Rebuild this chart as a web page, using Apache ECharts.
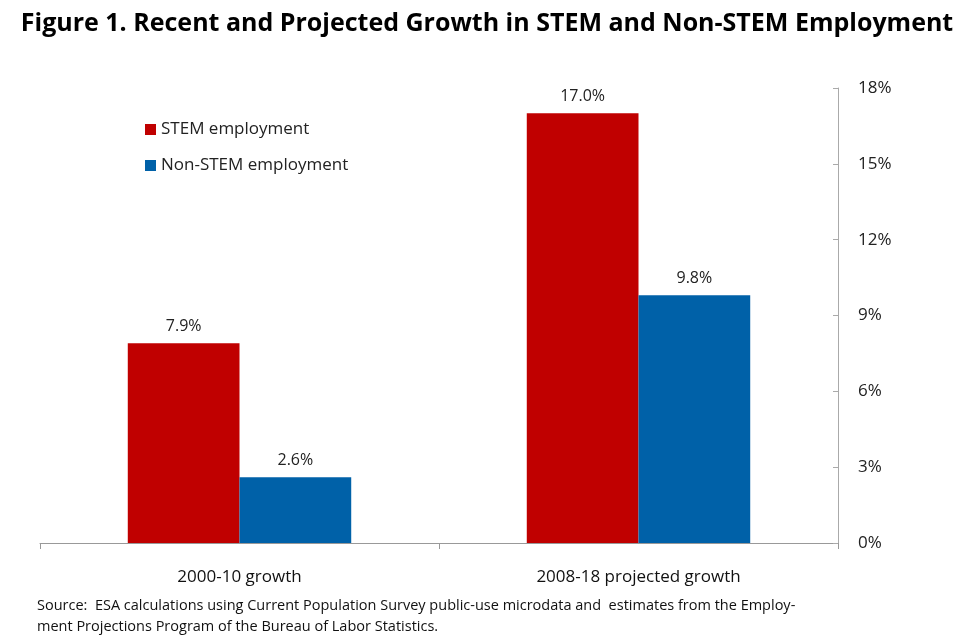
<!DOCTYPE html>
<html>
<head>
<meta charset="utf-8">
<script src="https://cdn.jsdelivr.net/npm/echarts@6/dist/echarts.min.js"></script>
<style>
  html, body { margin: 0; padding: 0; background: #fff; }
  #chart { width: 974px; height: 637px; }
</style>
</head>
<body>
<div id="chart"></div>
<script>
// data
const categories = ['2000-10 growth', '2008-18 projected growth'];
const stemValues = [7.9, 17.0];
const nonStemValues = [2.6, 9.8];
const seriesNames = ['STEM employment', 'Non-STEM employment'];

const chart = echarts.init(document.getElementById('chart'));
const font = '"Open Sans", "Liberation Sans", sans-serif';

chart.setOption({
    animation: false,
    title: {
        text: 'Figure 1. Recent and Projected Growth in STEM and Non-STEM Employment',
        left: 'center',
        top: 6,
        textStyle: { fontFamily: font, fontSize: 25, fontWeight: 'bold', color: '#000' }
    },
    legend: {
        orient: 'vertical',
        left: 140,
        top: 116,
        itemGap: 19,
        itemWidth: 11,
        itemHeight: 11,
        icon: 'rect',
        textStyle: { fontFamily: font, fontSize: 17, color: '#222' },
        data: seriesNames
    },
    grid: { left: 40, right: 136, top: 88, bottom: 94 },
    xAxis: {
        type: 'category',
        data: categories,
        axisLine: { lineStyle: { color: '#999' } },
        axisTick: { show: true, alignWithLabel: false, length: 6, lineStyle: { color: '#999' } },
        axisLabel: { fontFamily: font, fontSize: 17, color: '#111', margin: 26 }
    },
    yAxis: {
        type: 'value',
        position: 'right',
        min: 0,
        max: 18,
        interval: 3,
        axisLine: { show: true, lineStyle: { color: '#aaa' } },
        axisTick: { show: true, inside: true, length: 5, lineStyle: { color: '#aaa' } },
        splitLine: { show: false },
        axisLabel: { fontFamily: font, fontSize: 17, color: '#222', margin: 20, formatter: '{value}%' }
    },
    series: [
        {
            name: seriesNames[0],
            type: 'bar',
            data: stemValues,
            barGap: '0%',
            barCategoryGap: '44%',
            itemStyle: { color: '#C00000' },
            label: { show: true, position: 'top', distance: 9, fontFamily: font, fontSize: 16, color: '#222',
                     formatter: p => p.value.toFixed(1) + '%' }
        },
        {
            name: seriesNames[1],
            type: 'bar',
            data: nonStemValues,
            itemStyle: { color: '#0061A8' },
            label: { show: true, position: 'top', distance: 9, fontFamily: font, fontSize: 16, color: '#222',
                     formatter: p => p.value.toFixed(1) + '%' }
        }
    ],
    graphic: [
        {
            type: 'text',
            left: 37,
            top: 595,
            style: {
                text: 'Source:  ESA calculations using Current Population Survey public-use microdata and  estimates from the Employ-\nment Projections Program of the Bureau of Labor Statistics.',
                font: '14.5px ' + font,
                fill: '#111',
                lineHeight: 21
            }
        }
    ]
});
</script>
</body>
</html>
